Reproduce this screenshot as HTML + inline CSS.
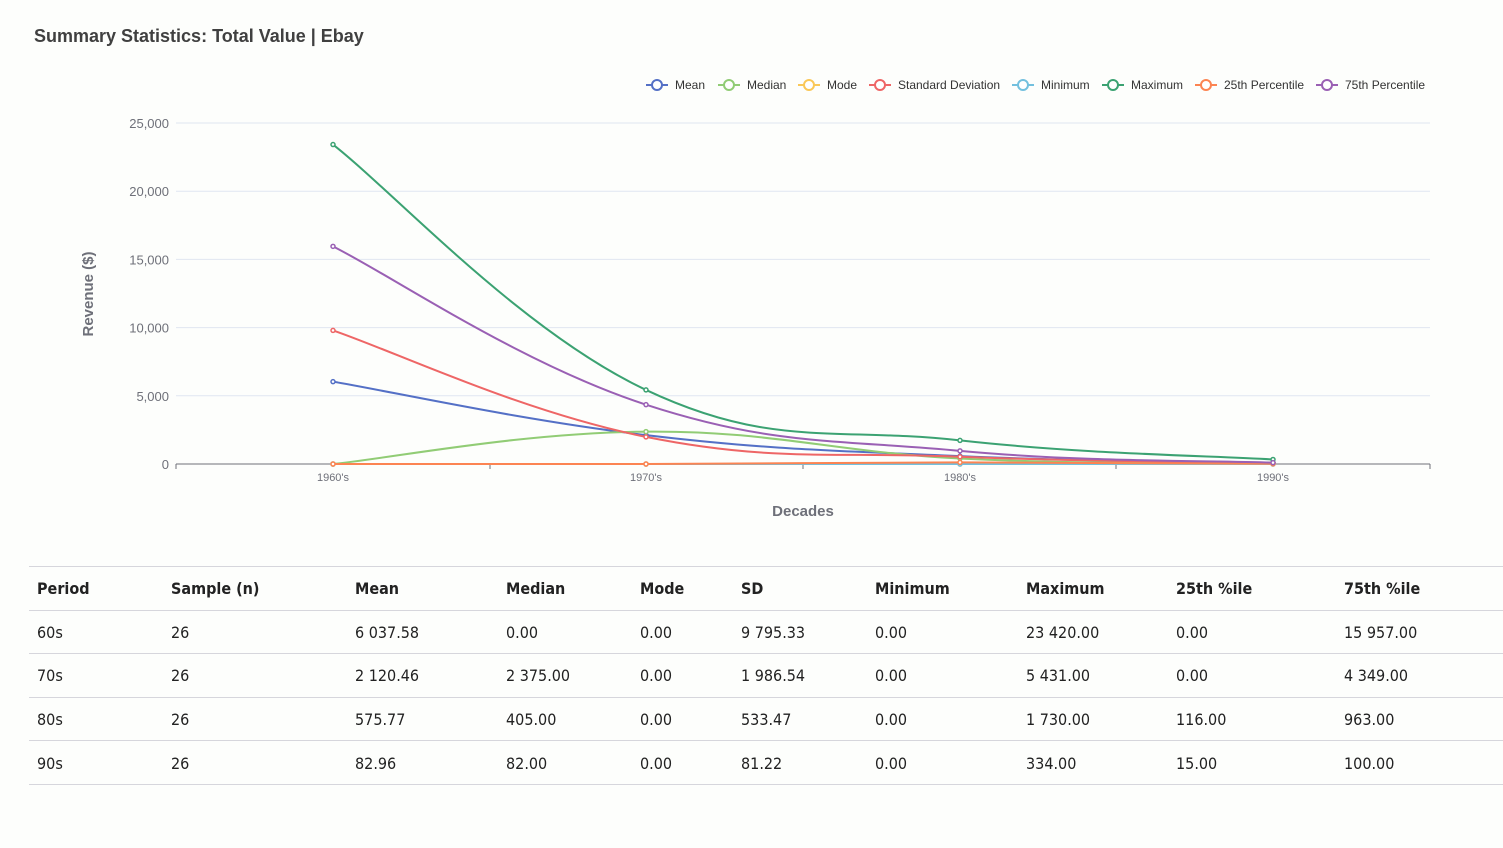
<!DOCTYPE html>
<html><head><meta charset="utf-8"><style>
body{margin:0;width:1503px;height:848px;background:#fdfefc;font-family:"Liberation Sans",sans-serif;overflow:hidden;position:relative}
.t{position:absolute;left:34px;top:26px;font-size:18px;font-weight:bold;color:#404040}
table{position:absolute;left:29px;top:566px;width:1474px;border-collapse:collapse;font-family:"DejaVu Sans Condensed","Liberation Sans",sans-serif;font-size:16px;color:#222}
td,th{text-align:left;padding:1px 0 0 8px;height:41.6px;border-top:1px solid #d6d6dc;font-weight:normal}
th{font-weight:bold}
tr:last-child td{border-bottom:1px solid #d6d6dc}
</style></head><body>
<div class="t">Summary Statistics: Total Value | Ebay</div>
<svg id="c" width="1503" height="560" style="position:absolute;left:0;top:0" font-family="Liberation Sans, sans-serif"></svg>
<table>
<colgroup><col style="width:134px"><col style="width:184px"><col style="width:151px"><col style="width:134px"><col style="width:101px"><col style="width:134px"><col style="width:151px"><col style="width:150px"><col style="width:168px"><col></colgroup>
<tr><th>Period</th><th>Sample (n)</th><th>Mean</th><th>Median</th><th>Mode</th><th>SD</th><th>Minimum</th><th>Maximum</th><th>25th %ile</th><th>75th %ile</th></tr>
<tr><td>60s</td><td>26</td><td>6 037.58</td><td>0.00</td><td>0.00</td><td>9 795.33</td><td>0.00</td><td>23 420.00</td><td>0.00</td><td>15 957.00</td></tr>
<tr><td>70s</td><td>26</td><td>2 120.46</td><td>2 375.00</td><td>0.00</td><td>1 986.54</td><td>0.00</td><td>5 431.00</td><td>0.00</td><td>4 349.00</td></tr>
<tr><td>80s</td><td>26</td><td>575.77</td><td>405.00</td><td>0.00</td><td>533.47</td><td>0.00</td><td>1 730.00</td><td>116.00</td><td>963.00</td></tr>
<tr><td>90s</td><td>26</td><td>82.96</td><td>82.00</td><td>0.00</td><td>81.22</td><td>0.00</td><td>334.00</td><td>15.00</td><td>100.00</td></tr>
</table>
<script>
var s='';
var y0=464,k=341/25000,xs=[333,646,960,1273];
[0,5000,10000,15000,20000,25000].forEach(function(v){var y=y0-v*k;
 if(v>0)s+='<line x1="176" x2="1430" y1="'+y+'" y2="'+y+'" stroke="#e0e6f1"/>';
 s+='<text x="169" y="'+(y+5)+'" text-anchor="end" font-size="13" fill="#6e7079">'+v.toLocaleString('en-US')+'</text>';});
s+='<line x1="176" x2="1430" y1="464" y2="464" stroke="#6e7079"/>';
[176,490,803,1116,1430].forEach(function(x){s+='<line x1="'+x+'" x2="'+x+'" y1="464" y2="469" stroke="#6e7079"/>';});
["1960's","1970's","1980's","1990's"].forEach(function(l,i){s+='<text x="'+xs[i]+'" y="481" text-anchor="middle" font-size="11" fill="#6e7079">'+l+'</text>';});
s+='<text x="803" y="516" text-anchor="middle" font-size="15" font-weight="bold" fill="#6e7079">Decades</text>';
s+='<text transform="translate(93,294) rotate(-90)" text-anchor="middle" font-size="15" font-weight="bold" fill="#6e7079">Revenue ($)</text>';
var ser=[["#5470c6",[6037.58,2120.46,575.77,82.96]],["#91cc75",[0,2375,405,82]],["#fac858",[0,0,0,0]],["#ee6666",[9795.33,1986.54,533.47,81.22]],["#73c0de",[0,0,0,0]],["#3ba272",[23420,5431,1730,334]],["#fc8452",[0,0,116,15]],["#9a60b4",[15957,4349,963,100]]];
ser.forEach(function(se){var p=se[1].map(function(v,i){return [xs[i],y0-v*k];});
 var d='M'+p[0][0]+','+p[0][1],t=0.2;
 for(var i=0;i<3;i++){var a=p[Math.max(i-1,0)],b=p[i],c=p[i+1],e=p[Math.min(i+2,3)];
  d+=' C'+(b[0]+(c[0]-a[0])*t)+','+(b[1]+(c[1]-a[1])*t)+' '+(c[0]-(e[0]-b[0])*t)+','+(c[1]-(e[1]-b[1])*t)+' '+c[0]+','+c[1];}
 s+='<path d="'+d+'" fill="none" stroke="'+se[0]+'" stroke-width="2"/>';
 p.forEach(function(q){s+='<circle cx="'+q[0]+'" cy="'+q[1]+'" r="2" fill="#fff" stroke="'+se[0]+'" stroke-width="1.5"/>';});});
var lg=[["Mean",657],["Median",729],["Mode",809],["Standard Deviation",880],["Minimum",1023],["Maximum",1113],["25th Percentile",1206],["75th Percentile",1327]];
lg.forEach(function(l,i){var c=ser[i][0],x=l[1];
 s+='<line x1="'+(x-11)+'" x2="'+(x+11)+'" y1="85" y2="85" stroke="'+c+'" stroke-width="2"/><circle cx="'+x+'" cy="85" r="5" fill="#fff" stroke="'+c+'" stroke-width="2"/>';
 s+='<text x="'+(x+18)+'" y="89" font-size="12" fill="#333">'+l[0]+'</text>';});
document.getElementById('c').innerHTML=s;
</script>
</body></html>
